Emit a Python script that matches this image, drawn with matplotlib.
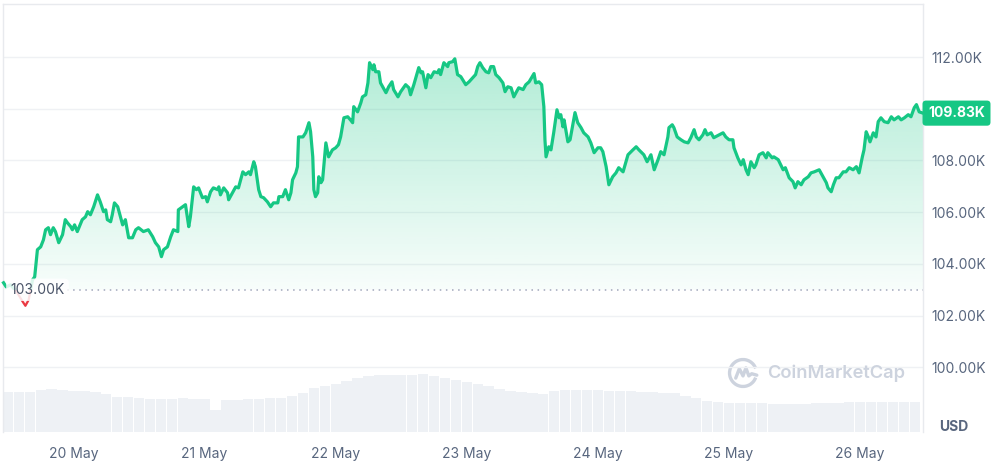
import numpy as np
import matplotlib.pyplot as plt
import matplotlib.transforms as mtransforms
from matplotlib.patches import Rectangle, Arc
from matplotlib.colors import to_rgb

plt.rcParams['font.family'] = ['Inter', 'DejaVu Sans']

# --- Data (hours from 20 May 00:00, price in thousands USD) ---
price_track = [
    (-12.8, 103.27), (-12.3, 103.11), (-11.5, 103.19), (-10.4, 102.92), (-9.3, 102.54),
    (-8.8, 102.38), (-8.2, 102.61), (-7.5, 103.38), (-7.1, 103.50), (-6.6, 104.55),
    (-6.0, 104.66), (-5.5, 104.93), (-5.1, 105.32), (-4.6, 105.40), (-4.2, 105.13),
    (-3.7, 105.40), (-3.3, 105.25), (-2.7, 104.82), (-2.0, 105.13), (-1.5, 105.71),
    (-1.1, 105.59), (-0.5, 105.44), (-0.2, 105.32), (0.2, 105.51), (0.7, 105.25),
    (1.6, 105.71), (2.2, 105.82), (2.6, 106.02), (3.1, 105.90), (3.7, 106.21),
    (4.4, 106.67), (4.9, 106.40), (5.5, 106.02), (5.9, 106.09), (6.2, 105.71),
    (6.8, 105.63), (7.1, 105.90), (7.5, 106.36), (8.1, 106.21), (8.4, 105.98),
    (9.0, 105.51), (9.5, 105.71), (10.1, 105.01), (10.8, 105.01), (11.4, 105.32),
    (11.9, 105.40), (12.8, 105.25), (13.7, 105.32), (14.5, 105.05), (15.0, 104.82),
    (15.6, 104.66), (16.1, 104.28), (16.5, 104.55), (17.2, 104.66), (17.8, 105.05),
    (18.3, 105.32), (19.1, 105.25), (19.2, 106.09), (20.0, 106.21), (20.5, 106.29),
    (21.1, 105.44), (21.4, 105.82), (22.0, 106.98), (22.5, 106.87), (22.9, 106.94),
    (23.6, 106.56), (24.2, 106.60), (24.5, 106.40), (25.1, 106.79), (25.6, 106.94),
    (26.4, 106.87), (26.6, 106.98), (26.9, 106.67), (27.5, 106.94), (28.2, 106.75),
    (28.4, 106.48), (29.1, 106.75), (29.7, 106.98), (30.2, 106.94), (31.0, 107.56),
    (31.5, 107.45), (32.1, 107.56), (32.4, 107.45), (33.0, 107.95), (33.3, 107.76),
    (33.9, 106.87), (34.3, 106.60), (34.8, 106.56), (35.5, 106.40), (36.1, 106.21),
    (36.6, 106.36), (37.4, 106.36), (37.6, 106.60), (38.3, 106.60), (38.8, 106.87),
    (39.4, 106.48), (39.8, 106.75), (40.1, 107.25), (40.7, 107.52), (41.0, 107.76),
    (41.2, 108.91), (42.0, 108.91), (42.5, 109.07), (43.1, 109.46), (43.4, 109.11),
    (43.8, 108.14), (44.0, 106.87), (44.3, 106.60), (44.7, 106.75), (44.9, 107.37),
    (45.3, 107.14), (45.6, 107.25), (46.2, 108.68), (46.7, 108.14), (47.4, 108.41),
    (48.0, 108.49), (48.5, 108.61), (48.9, 108.91), (49.5, 109.65), (50.2, 109.69),
    (50.7, 109.57), (51.1, 109.46), (51.3, 110.08), (52.0, 109.88), (52.6, 110.23),
    (52.9, 110.46), (53.5, 110.54), (53.9, 111.00), (54.2, 111.78), (54.8, 111.51),
    (55.0, 111.70), (55.3, 111.43), (55.9, 111.43), (56.2, 111.00), (56.6, 110.85),
    (57.2, 110.62), (57.7, 110.85), (58.3, 111.04), (58.6, 110.74), (59.4, 110.46),
    (59.9, 110.66), (60.8, 110.93), (61.4, 110.81), (61.7, 110.54), (62.3, 110.93),
    (63.2, 111.59), (63.6, 111.39), (63.9, 111.43), (64.5, 110.81), (64.9, 111.32),
    (65.4, 111.20), (66.0, 111.43), (66.7, 111.39), (66.9, 111.51), (67.2, 111.32),
    (67.8, 111.78), (68.5, 111.63), (68.7, 111.78), (69.4, 111.82), (69.8, 111.93),
    (70.3, 111.32), (70.9, 111.24), (71.8, 110.93), (72.4, 111.04), (73.1, 111.20),
    (73.6, 111.32), (74.0, 111.63), (74.4, 111.78), (74.9, 111.59), (75.5, 111.43),
    (76.0, 111.39), (76.4, 111.63), (76.9, 111.63), (77.3, 111.32), (77.9, 111.20),
    (78.6, 111.00), (79.0, 110.66), (79.5, 110.85), (80.1, 110.81), (80.6, 110.46),
    (81.0, 110.62), (81.5, 110.81), (82.3, 110.74), (82.8, 110.93), (83.4, 111.04),
    (84.3, 111.36), (84.6, 111.00), (85.2, 111.04), (85.7, 110.93), (86.1, 110.08),
    (86.3, 108.80), (86.5, 108.14), (87.0, 108.53), (87.4, 108.41), (87.9, 109.07),
    (88.5, 109.96), (88.9, 109.65), (89.2, 109.77), (89.6, 109.30), (89.8, 109.57),
    (90.5, 108.72), (90.9, 108.80), (91.4, 109.38), (91.8, 109.85), (92.3, 109.46),
    (92.9, 109.27), (93.4, 109.07), (94.2, 108.91), (94.7, 108.68), (95.3, 108.30),
    (96.0, 108.49), (96.5, 108.49), (96.9, 108.34), (97.5, 107.76), (98.0, 107.06),
    (98.7, 107.37), (99.3, 107.52), (99.8, 107.72), (100.6, 107.56), (101.5, 108.22),
    (102.4, 108.41), (103.0, 108.53), (103.5, 108.41), (104.4, 108.22), (105.0, 107.95),
    (105.7, 108.22), (106.3, 107.64), (107.0, 108.03), (107.5, 108.34), (108.1, 108.22),
    (108.8, 108.91), (109.0, 109.27), (109.6, 109.38), (109.9, 109.27), (110.5, 108.91),
    (111.2, 108.80), (111.8, 108.72), (112.5, 108.68), (113.0, 108.88), (113.6, 109.19),
    (114.0, 108.91), (114.5, 108.80), (115.2, 108.99), (115.6, 109.19), (116.0, 108.99),
    (116.7, 109.07), (117.2, 108.88), (118.2, 108.99), (118.9, 109.07), (119.4, 108.91),
    (120.0, 108.80), (120.7, 108.80), (120.9, 108.49), (121.6, 108.10), (122.2, 107.83),
    (122.6, 108.03), (123.1, 107.64), (123.5, 107.45), (124.0, 107.95), (124.6, 107.72),
    (124.9, 107.83), (125.5, 108.22), (126.2, 108.30), (126.8, 108.10), (127.1, 108.30),
    (127.9, 108.10), (128.2, 108.14), (129.0, 108.03), (129.9, 107.64), (130.3, 107.72),
    (131.0, 107.33), (131.7, 107.18), (132.1, 106.94), (132.6, 107.18), (133.2, 107.06),
    (133.7, 107.25), (134.5, 107.37), (135.0, 107.52), (135.6, 107.56), (136.5, 107.64),
    (137.2, 107.37), (137.8, 107.14), (138.1, 106.94), (138.7, 106.79), (139.1, 107.06),
    (139.6, 107.33), (140.1, 107.33), (140.9, 107.56), (141.4, 107.56), (142.0, 107.72),
    (142.7, 107.64), (143.3, 107.76), (143.8, 107.52), (144.4, 108.14), (144.7, 108.41),
    (145.1, 109.11), (145.5, 108.91), (145.8, 108.72), (146.4, 109.07), (146.9, 108.91),
    (147.3, 109.50), (147.8, 109.65), (148.4, 109.50), (149.1, 109.46), (149.7, 109.69),
    (150.2, 109.57), (151.0, 109.69), (151.5, 109.57), (152.1, 109.65), (152.8, 109.77),
    (153.3, 109.69), (153.9, 110.04), (154.3, 110.16), (154.8, 109.88), (155.5, 109.83),
]
hours, price = np.array(price_track).T

# trading volume, one bar per 2 hours (relative units)
vol_hours = np.arange(-12, 155, 2)
volume = [
    10.0, 10.0, 10.0, 10.5, 10.7, 10.5, 10.2, 10.2, 10.0, 9.5,
    8.7, 8.7, 8.5, 8.2, 8.2, 8.2, 8.5, 8.2, 8.2, 5.5,
    8.0, 8.0, 8.2, 8.2, 8.5, 8.5, 9.0, 9.7, 11.0, 11.5,
    12.0, 12.7, 13.5, 14.0, 14.2, 14.2, 14.2, 14.2, 14.5, 14.0,
    13.5, 13.0, 12.5, 12.0, 11.5, 10.7, 10.2, 10.0, 9.7, 9.5,
    10.2, 10.5, 10.5, 10.5, 10.5, 10.2, 10.2, 10.2, 10.0, 10.0,
    9.7, 9.7, 9.0, 8.5, 7.7, 7.5, 7.2, 7.2, 7.2, 7.2,
    7.0, 7.0, 7.0, 7.0, 7.2, 7.2, 7.2, 7.5, 7.5, 7.5,
    7.5, 7.5, 7.5, 7.5,
]

open_price = 103.0
last_price = 109.83
day_hours = [0, 24, 48, 72, 96, 120, 144]
day_labels = ['20 May', '21 May', '22 May', '23 May', '24 May', '25 May', '26 May']
price_ticks = [100, 102, 104, 106, 108, 110, 112]

GREEN = '#16c784'
RED = '#ea3943'
GREY_TXT = '#58667e'

fig = plt.figure(figsize=(9.97, 4.62), dpi=100)
ax = fig.add_axes([3 / 997, 30 / 462, 920 / 997, 428 / 462])
xmin, xmax = -12.9, 155.5
ymin, ymax = 97.5, 114.05

# volume bars on a twin axis behind the price
axv = ax.twinx()
axv.bar(vol_hours, volume, width=1.9, color='#eef1f5', linewidth=0)
axv.set_ylim(0, 107)
axv.set_yticks([])
for s in axv.spines.values():
    s.set_visible(False)
axv.set_zorder(0)
ax.set_zorder(1)
ax.patch.set_visible(False)

# gradient area under the line, down to the open price
rgba = np.zeros((256, 1, 4))
rgba[..., :3] = to_rgb(GREEN)
rgba[..., 3] = np.linspace(0.03, 0.34, 256)[:, None]
im = ax.imshow(rgba, extent=[xmin, xmax, open_price, 112.2], origin='lower',
               aspect='auto', zorder=2, interpolation='bilinear')
area = ax.fill_between(hours, price, open_price, color='none', linewidth=0)
im.set_clip_path(area.get_paths()[0], transform=ax.transData)
ax.fill_between(hours, price, open_price, where=price < open_price, interpolate=True,
                color=RED, alpha=0.08, linewidth=0, zorder=2)

# price line: green above the open, red below
above = Rectangle((xmin - 5, open_price), 200, 30, transform=ax.transData)
below = Rectangle((xmin - 5, 80), 200, open_price - 80, transform=ax.transData)
lg, = ax.plot(hours, price, color=GREEN, lw=2.3, zorder=4, solid_joinstyle='round')
lg.set_clip_path(above)
lr, = ax.plot(hours, price, color=RED, lw=1.6, zorder=4, solid_joinstyle='round')
lr.set_clip_path(below)

# open price reference
ax.axhline(open_price, xmin=0.07, xmax=1, color='#a1a7bb', lw=1.1,
           linestyle=(0, (1, 3)), zorder=3)
blend = mtransforms.blended_transform_factory(ax.transAxes, ax.transData)
ax.text(0.008, open_price, '103.00K', transform=blend, ha='left', va='center',
        fontsize=10, color='#4a5468', zorder=6,
        bbox=dict(boxstyle='round,pad=0.3,rounding_size=0.3', fc='white',
                  ec='none', alpha=0.85))

ax.set_xlim(xmin, xmax)
ax.set_ylim(ymin, ymax)
ax.set_xticks(day_hours, day_labels)
# the 110K label sits under the current price badge
ax.set_yticks(price_ticks, ['' if p == 110 else f'{p:.2f}K' for p in price_ticks])
ax.yaxis.tick_right()
ax.tick_params(axis='x', length=0, pad=11, labelsize=10, labelcolor=GREY_TXT)
ax.tick_params(axis='y', length=0, pad=6, labelsize=10, labelcolor=GREY_TXT)
ax.grid(axis='y', color='#eff1f4', lw=1)
ax.set_axisbelow(True)
for side in ['left', 'top', 'right']:
    ax.spines[side].set_color('#e8eaee')
    ax.spines[side].set_linewidth(1)
ax.spines['bottom'].set_visible(False)

# current price badge
ax.text(1 + 33.5 / 920, last_price, f'{last_price:.2f}K', transform=blend,
        ha='center', va='center', fontsize=10, fontweight='bold', color='white',
        zorder=10, clip_on=False,
        bbox=dict(boxstyle='round,pad=0.4,rounding_size=0.25', fc=GREEN, ec='none'))

fig.text(954 / 997, 1 - 427 / 462, 'USD', ha='center', va='center',
         fontsize=10, fontweight='bold', color=GREY_TXT)

# watermark
fig.text(767 / 997, 1 - 373 / 462, 'CoinMarketCap', ha='left', va='center',
         fontsize=13.2, fontweight='semibold', color='#cdd3de')
logo = fig.add_axes([727 / 997, 1 - 389 / 462, 32 / 997, 32 / 462])
logo.set_xlim(-1.1, 1.1)
logo.set_ylim(-1.1, 1.1)
logo.set_aspect('equal')
logo.axis('off')
logo.add_patch(Arc((0, 0), 1.85, 1.85, theta1=20, theta2=340, color='#cdd3de', lw=2.4))
logo.plot([-0.5, -0.25, 0.0, 0.2, 0.4, 0.6, 0.95], [-0.35, 0.3, -0.2, 0.35, -0.2, -0.05, -0.15],
          color='#cdd3de', lw=2.4, solid_capstyle='round')

fig.savefig('out.png', dpi=100)
